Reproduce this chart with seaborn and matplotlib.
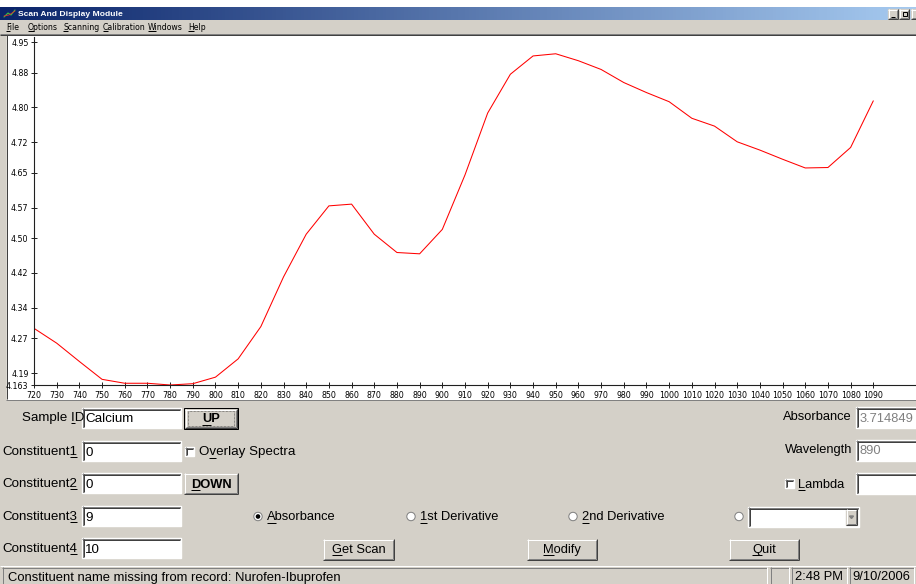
import matplotlib
matplotlib.use("Agg")
import matplotlib.pyplot as plt
import numpy as np
import pandas as pd
import seaborn as sns
from matplotlib.patches import Rectangle, Circle, Polygon
from matplotlib.font_manager import FontProperties

# ---- spectrum data -------------------------------------------------------
wavelengths = [720, 730, 740, 750, 760, 770, 780, 790, 800, 810,
               820, 830, 840, 850, 860, 870, 880, 890, 900, 910,
               920, 930, 940, 950, 960, 970, 980, 990, 1000, 1010,
               1020, 1030, 1040, 1050, 1060, 1070, 1080, 1090]
absorbance = [4.293, 4.259, 4.217, 4.176, 4.167, 4.167, 4.163, 4.166, 4.181, 4.223,
              4.297, 4.411, 4.509, 4.574, 4.578, 4.509, 4.467, 4.464, 4.520, 4.645,
              4.787, 4.876, 4.918, 4.923, 4.907, 4.887, 4.857, 4.834, 4.813, 4.775,
              4.757, 4.721, 4.702, 4.681, 4.661, 4.662, 4.708, 4.815]

y_tick_values = [4.95, 4.88, 4.80, 4.72, 4.65, 4.57, 4.50, 4.42, 4.34, 4.27, 4.19, 4.163]
y_tick_labels = ["4.95", "4.88", "4.80", "4.72", "4.65", "4.57", "4.50", "4.42",
                 "4.34", "4.27", "4.19", "4.163"]
x_tick_values = [720, 730, 740, 750, 760, 770, 780, 790, 800, 810, 820, 830, 840,
                 850, 860, 870, 880, 890, 900, 910, 920, 930, 940, 950, 960, 970,
                 980, 990, 1000, 1010, 1020, 1030, 1040, 1050, 1060, 1070, 1080, 1090]

window_title = "Scan And Display Module"
menu_items = ["File", "Options", "Scanning", "Calibration", "Windows", "Help"]
constituent_labels = ["Constituent1", "Constituent2", "Constituent3", "Constituent4"]
constituent_values = ["0", "0", "9", "10"]
sample_id = "Calcium"
readout_absorbance = "3.714849"
readout_wavelength = "890"
status_message = "Constituent name missing from record: Nurofen-Ibuprofen"
status_time = "2:48 PM"
status_date = "9/10/2006"

df = pd.DataFrame({"Wavelength": wavelengths, "Absorbance": absorbance})

sns.set_style("white")
plt.rcParams["font.family"] = ["Liberation Sans", "DejaVu Sans"]

W, H = 916, 584
FACE = "#D4D0C8"
fig = plt.figure(figsize=(W / 100, H / 100), dpi=100)
renderer = fig.canvas.get_renderer()

bg = fig.add_axes([0, 0, 1, 1])
bg.set_xlim(0, W)
bg.set_ylim(H, 0)
bg.axis("off")
bg.add_patch(Rectangle((0, 0), W, H, color=FACE, zorder=0))

LW = 0.72  # one pixel in points


def hline(x0, x1, y, c):
    bg.plot([x0, x1], [y, y], color=c, lw=LW, solid_capstyle="butt", zorder=3)


def vline(x, y0, y1, c):
    bg.plot([x, x], [y0, y1], color=c, lw=LW, solid_capstyle="butt", zorder=3)


def sunken(x0, y0, x1, y1, fill="white"):
    bg.add_patch(Rectangle((x0, y0), x1 - x0, y1 - y0, color=fill, zorder=2))
    hline(x0, x1, y0 + 0.5, "#808080")
    vline(x0 + 0.5, y0, y1, "#808080")
    hline(x0 + 1, x1 - 1, y0 + 1.5, "#404040")
    vline(x0 + 1.5, y0 + 1, y1 - 1, "#404040")
    hline(x0, x1, y1 - 0.5, "white")
    vline(x1 - 0.5, y0, y1, "white")


def raised(x0, y0, x1, y1, default=False):
    bg.add_patch(Rectangle((x0, y0), x1 - x0, y1 - y0, color=FACE, zorder=2))
    if default:
        bg.add_patch(Rectangle((x0, y0), x1 - x0, y1 - y0, fill=False,
                               ec="black", lw=LW, zorder=3))
        x0, y0, x1, y1 = x0 + 1, y0 + 1, x1 - 1, y1 - 1
    hline(x0, x1, y0 + 0.5, "white")
    vline(x0 + 0.5, y0, y1, "white")
    hline(x0, x1, y1 - 0.5, "#404040")
    vline(x1 - 0.5, y0, y1, "#404040")
    hline(x0 + 1, x1 - 1, y1 - 1.5, "#808080")
    vline(x1 - 1.5, y0 + 1, y1 - 1, "#808080")


def text_width(s, size, family=None, weight="normal"):
    fam = family if family is not None else plt.rcParams["font.family"]
    prop = FontProperties(family=fam, size=size, weight=weight)
    w, _, _ = renderer.get_text_width_height_descent(s, prop, ismath=False)
    return w


def label(x, y, s, size=9.3, ha="left", color="black", key=None, uy=5.3,
          family=None, weight="normal"):
    kw = {}
    if family is not None:
        kw["family"] = family
    bg.text(x, y, s, fontsize=size, ha=ha, va="center", color=color, zorder=5,
            weight=weight, **kw)
    if key is not None:
        full = text_width(s, size, family, weight)
        left = x if ha == "left" else (x - full / 2 if ha == "center" else x - full)
        a = left + text_width(s[:key], size, family, weight) if key else left
        b = left + text_width(s[:key + 1], size, family, weight)
        hline(a, b, y + uy, color)


# ---- window title bar ----------------------------------------------------
bg.add_patch(Rectangle((0, 0), W, 7, color="white", zorder=1))
grad = np.linspace(0, 1, 256)[None, :, None]
c0 = np.array([10, 36, 106]) / 255
c1 = np.array([166, 202, 240]) / 255
bg.imshow(c0 + (c1 - c0) * grad, extent=(0, W, 20, 7), aspect="auto", zorder=1)
bg.set_xlim(0, W)
bg.set_ylim(H, 0)
bg.plot([4, 8, 11, 15], [17, 13, 15, 10], color="#40c040", lw=0.8, zorder=4)
bg.plot([4, 9, 15], [16, 15, 11], color="#e03030", lw=0.6, zorder=4)
bg.text(18, 14, window_title, fontsize=6.1, color="white", weight="bold",
        va="center", zorder=5)
raised(888, 9, 898, 19)
raised(899, 9, 909, 19)
raised(911, 9, 921, 19)
hline(891, 895, 16.5, "black")
bg.add_patch(Rectangle((902.5, 11.5), 4, 4, fill=False, ec="black", lw=LW, zorder=4))

# ---- menu bar ------------------------------------------------------------
menu_x = [6, 28, 63, 103, 148, 188]
for mx, item in zip(menu_x, menu_items):
    label(mx, 27, item, size=5.6, family=["DejaVu Sans"], key=0, uy=3.6)
hline(0, W, 33.5, "#808080")
hline(0, W, 34.5, "#404040")

# ---- plot panel ----------------------------------------------------------
bg.add_patch(Rectangle((7, 35), W - 7, 364, color="white", zorder=1))
vline(6.5, 35, 399, "#404040")
hline(6, W, 399.5, "#808080")

ax = fig.add_axes([34 / W, 1 - 385 / H, (916 - 34) / W, (385 - 37) / H])
ax.set_facecolor("white")
sns.lineplot(data=df, x="Wavelength", y="Absorbance", ax=ax, color="#ff0000",
             linewidth=0.75)
px_per_nm = (873.3 - 34) / 370
ax.set_xlim(720, 720 + (916 - 34) / px_per_nm)
per_px = (4.95 - 4.163) / (385 - 42)
ax.set_ylim(4.163, 4.163 + (385 - 37) * per_px)
ax.set_xticks(x_tick_values)
ax.set_xticklabels([str(v) for v in x_tick_values])
ax.set_yticks(y_tick_values)
ax.set_yticklabels(y_tick_labels)
ax.set_xlabel("")
ax.set_ylabel("")
for side in ("top", "right"):
    ax.spines[side].set_visible(False)
for side in ("left", "bottom"):
    ax.spines[side].set_color("#202020")
    ax.spines[side].set_linewidth(0.8)
ax.tick_params(axis="both", direction="inout", length=5, width=0.7,
               colors="#202020", labelsize=5.7, pad=1.5, left=True, bottom=True)
for t in ax.get_xticklabels() + ax.get_yticklabels():
    t.set_family(["DejaVu Sans"])
    t.set_color("black")

# ---- form controls -------------------------------------------------------
label(22, 418, "Sample ID", size=9.6, key=7)
sunken(82, 408, 181, 428)
label(85, 419.5, sample_id, size=9.6)
raised(184, 408, 238, 429, default=True)
bg.add_patch(Rectangle((188, 411), 46, 15, fill=False, ec="#404040", lw=0.5,
                       ls=(0, (1, 1)), zorder=4))
label(211, 419.5, "UP", size=9.3, ha="center", key=0, weight="bold")

rows_y = [452, 484, 517, 549]
for ry, name, val in zip(rows_y, constituent_labels, constituent_values):
    label(2, ry, name, size=9.6, key=len(name) - 1)
    sunken(82, ry - 11, 181, ry + 9)
    label(85, ry + 1, val, size=9.6)

sunken(185, 447, 194, 456)
label(199, 452.5, "Overlay Spectra", size=9.6, key=1)

raised(184, 473, 238, 494)
label(211, 484.5, "DOWN", size=9.3, ha="center", key=0, weight="bold")


def radio(x, y, checked=False):
    bg.add_patch(Circle((x, y), 4.2, fc="white", ec="#808080", lw=LW, zorder=3))
    if checked:
        bg.add_patch(Circle((x, y), 1.6, color="black", zorder=4))


radio(258, 516.5, checked=True)
label(267, 517.5, "Absorbance", size=9.3, key=0)
radio(411, 516.5)
label(420, 517.5, "1st Derivative", size=9.3, key=0)
radio(573, 516.5)
label(582, 517.5, "2nd Derivative", size=9.3, key=0)
radio(739, 516.5)
sunken(748, 507, 859, 527)
raised(846, 509, 857, 525)
bg.add_patch(Polygon([[849.5, 516], [853.5, 516], [851.5, 518.5]], closed=True,
                     color="#808080", zorder=4))

raised(323, 539, 394, 560)
label(358.5, 550, "Get Scan", size=9.3, ha="center", key=0)
raised(527, 539, 597, 560)
label(562, 550, "Modify", size=9.3, ha="center", key=0)
raised(729, 539, 799, 560)
label(764, 550, "Quit", size=9.3, ha="center", key=0)

label(852, 417, "Absorbance", size=9.3, ha="right")
sunken(856, 407, 920, 428)
label(860, 418.5, readout_absorbance, size=9.3, color="#808080")
label(852, 450, "Wavelength", size=9.3, ha="right")
sunken(856, 440, 920, 461)
label(860, 451.5, readout_wavelength, size=9.3, color="#808080")
sunken(785, 479, 794, 488)
label(798, 484.5, "Lambda", size=9.3, key=0)
sunken(856, 473, 920, 494)

# ---- status bar ----------------------------------------------------------
def status_panel(x0, x1):
    hline(x0, x1, 567.5, "#808080")
    vline(x0 + 0.5, 567, 584, "#808080")
    vline(x1 - 0.5, 567, 584, "white")


hline(0, W, 565.5, "white")
status_panel(2, 767)
status_panel(770, 789)
status_panel(791, 847)
status_panel(849, 914)
label(8, 577.5, status_message, size=9.4)
label(795, 577.5, status_time, size=9.3)
label(852, 577.5, status_date, size=9.3)

fig.savefig("out.png", dpi=100)
